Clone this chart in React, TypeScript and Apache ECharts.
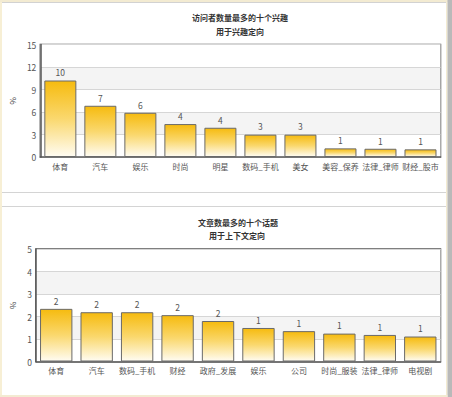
import React, { useEffect, useRef } from "react";
import * as echarts from "echarts";

const interestCategories = ["体育", "汽车", "娱乐", "时尚", "明星", "数码_手机", "美女", "美容_保养", "法律_律师", "财经_股市"];
const interestValues = [10.2, 6.83, 5.9, 4.39, 3.9, 2.98, 2.98, 1.15, 1.1, 1.02];
const topicCategories = ["体育", "汽车", "数码_手机", "财经", "政府_发展", "娱乐", "公司", "时尚_服装", "法律_律师", "电视剧"];
const topicValues = [2.34, 2.19, 2.19, 2.06, 1.8, 1.49, 1.35, 1.24, 1.18, 1.11];

const FONT = "'Noto Sans CJK SC', 'Noto Sans', sans-serif";

const barGradient = () =>
  new echarts.graphic.LinearGradient(0, 0, 0, 1, [
    { offset: 0, color: "#f6bb0f" },
    { offset: 0.5, color: "#fad86e" },
    { offset: 1, color: "#fffcf2" },
  ]);

export default function App() {
  const ref = useRef<HTMLDivElement>(null);
  useEffect(() => {
    document.body.style.margin = "0";
    const chart = echarts.init(ref.current!, null, { renderer: "svg" });
    const axisLabel = { color: "#555", fontSize: 8, fontFamily: FONT };
    const mkY = (gi: number, max: number, interval: number, gap: number) => ({
      type: "value",
      gridIndex: gi,
      min: 0,
      max,
      interval,
      name: "%",
      nameLocation: "middle",
      nameGap: gap,
      nameRotate: 90,
      nameTextStyle: { color: "#444", fontSize: 8, fontFamily: FONT },
      axisLine: { show: true, lineStyle: { color: "#555", width: 1.5 } },
      axisTick: { show: false },
      axisLabel: { ...axisLabel, fontSize: 8.5, margin: 4 },
      splitLine: { show: true, lineStyle: { color: "#d6d6d6", width: 1 } },
      splitArea: { show: true, areaStyle: { color: ["#ffffff", "#f4f4f4"] } },
    });
    const mkX = (gi: number, data: string[]) => ({
      type: "category",
      gridIndex: gi,
      data,
      axisLine: { show: true, lineStyle: { color: "#555", width: 1.5 } },
      axisTick: { show: false },
      axisLabel: { ...axisLabel, fontSize: 8, margin: 5, interval: 0 },
    });
    const mkSeries = (gi: number, data: number[]) => ({
      type: "bar",
      xAxisIndex: gi,
      yAxisIndex: gi,
      data,
      barWidth: "80%",
      itemStyle: { color: barGradient(), borderColor: "#6a6a6a", borderWidth: 1 },
      label: {
        show: true,
        position: "top",
        distance: 4,
        color: "#555",
        fontSize: 8.5,
        fontFamily: FONT,
        formatter: (p: any) => String(Math.round(p.value)),
      },
    });
    const titleStyle = { color: "#333", fontSize: 8, fontWeight: "bold" as const, fontFamily: FONT };
    chart.setOption({
      animation: false,
      backgroundColor: "#ffffff",
      title: [
        { text: "访问者数量最多的十个兴趣", left: 240, top: 13, textAlign: "center", textStyle: titleStyle, padding: 0 },
        { text: "用于兴趣定向", left: 240, top: 27, textAlign: "center", textStyle: titleStyle, padding: 0 },
        { text: "文章数最多的十个话题", left: 238, top: 218, textAlign: "center", textStyle: titleStyle, padding: 0 },
        { text: "用于上下文定向", left: 237, top: 231, textAlign: "center", textStyle: titleStyle, padding: 0 },
      ],
      grid: [
        { left: 40, top: 44.5, width: 400.5, height: 112.5, show: true, borderColor: "#555", borderWidth: 1.5, backgroundColor: "transparent" },
        { left: 36, top: 249, width: 404.5, height: 112.5, show: true, borderColor: "#555", borderWidth: 1.5, backgroundColor: "transparent" },
      ],
      xAxis: [mkX(0, interestCategories), mkX(1, topicCategories)],
      yAxis: [mkY(0, 15, 3, 24), mkY(1, 5, 1, 20)],
      series: [mkSeries(0, interestValues), mkSeries(1, topicValues)],
      graphic: [
        { type: "rect", shape: { x: 0, y: 0, width: 2, height: 397 }, style: { fill: "#f7efd5" }, silent: true },
        { type: "rect", shape: { x: 0, y: 0, width: 452, height: 2 }, style: { fill: "#f3ebd2" }, silent: true },
        { type: "line", shape: { x1: 2, y1: 2.5, x2: 447, y2: 2.5 }, style: { stroke: "#d2d2d2", lineWidth: 1 }, silent: true },
        { type: "rect", shape: { x: 446, y: 0, width: 1.5, height: 397 }, style: { fill: "#f3ebd2" }, silent: true },
        { type: "rect", shape: { x: 447.5, y: 0, width: 4.5, height: 397 }, style: { fill: "#b9b9b9" }, silent: true },
        { type: "rect", shape: { x: 0, y: 395, width: 447.5, height: 2 }, style: { fill: "#f3ebd2" }, silent: true },
        { type: "line", shape: { x1: 2, y1: 192.5, x2: 446, y2: 192.5 }, style: { stroke: "#d4d4d4", lineWidth: 1 }, silent: true },
        { type: "line", shape: { x1: 2, y1: 206.5, x2: 446, y2: 206.5 }, style: { stroke: "#d4d4d4", lineWidth: 1 }, silent: true },
      ],
    });
    return () => chart.dispose();
  }, []);
  return <div ref={ref} style={{ width: 452, height: 397 }} />;
}
